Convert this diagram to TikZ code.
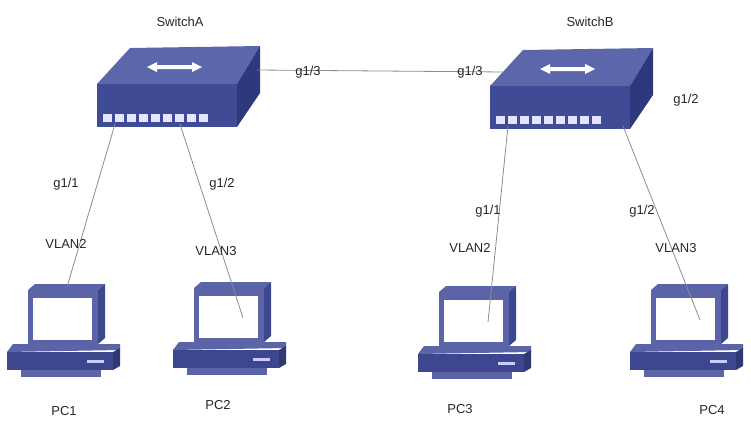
\documentclass[tikz,border=0pt]{standalone}
\usepackage{fontspec}
\setmainfont{Liberation Sans}
\definecolor{swtop}{HTML}{5C66AA}
\definecolor{swfront}{HTML}{3F4B95}
\definecolor{swside}{HTML}{2E387C}
\definecolor{pcface}{HTML}{5A64A6}
\definecolor{pcdark}{HTML}{3C4790}
\tikzset{
  lbl/.style={font=\fontsize{13}{15}\selectfont,text=black!85},
  link/.style={draw=black!45,line width=0.8pt},
  pics/switch/.style={code={
    \fill[swtop] (0,0) -- (33,-36) -- (163,-38) -- (140,0) -- cycle;
    \fill[swside] (140,0) -- (163,-38) -- (163,9) -- (140,43) -- cycle;
    \fill[swfront] (0,0) rectangle (140,43);
    \fill[white] (50,-17) -- (60,-22) -- (60,-19) -- (95,-19) -- (95,-22) -- (105,-17)
      -- (95,-12) -- (95,-15) -- (60,-15) -- (60,-12) -- cycle;
    \foreach \i in {0,...,8} \fill[white!90!blue] (6+\i*12,30) rectangle ++(9,8);
    \coordinate (-p1) at (18,40);
    \coordinate (-p2) at (83,40);
    \coordinate (-left) at (15,-14);
    \coordinate (-right) at (160,-14);
  }},
  pics/pc/.style={code={
    \fill[pcface] (21,0) -- (28,-6) -- (98,-6) -- (91,0) -- cycle;
    \fill[pcdark] (91,0) -- (98,-6) -- (98,48) -- (91,54) -- cycle;
    \fill[pcface] (21,0) rectangle (91,54);
    \fill[white] (26,8) rectangle (85,50);
    \fill[pcface] (6,54) -- (113,54) -- (113,60) -- (0,62) -- cycle;
    \fill[pcdark] (0,62) rectangle (106,80);
    \fill[pcdark!80!black] (106,62) -- (113,58) -- (113,76) -- (106,80) -- cycle;
    \fill[white!80!blue] (80,70) rectangle (97,73);
    \fill[pcface] (14,80) rectangle (94,87);
    \coordinate (-top) at (60,-3);
    \coordinate (-scr) at (70,30);
  }}
}
\begin{document}
\begin{tikzpicture}[x=1pt,y=-1pt]
  \useasboundingbox (0,0) rectangle (751,426);
  % switches
  \pic (swA) at (97,84) {switch};
  \pic (swB) at (490,86) {switch};
  % hosts
  \pic (pc1) at (7,290) {pc};
  \pic (pc2) at (173,288) {pc};
  \pic (pc3) at (418,292) {pc};
  \pic (pc4) at (630,290) {pc};

  \draw[link] (swA-right) -- (swB-left);
  \draw[link] (swA-p1) -- (pc1-top);
  \draw[link] (swA-p2) -- (pc2-scr);
  \draw[link] (swB-p1) -- (pc3-scr);
  \draw[link] ([xshift=50pt]swB-p2) -- (pc4-scr);

  \node[lbl] (nA) at (180,22) {SwitchA};
  \node[lbl] (nB) at (590,22) {SwitchB};
  \node[lbl] (a3) at (308,72) {g1/3};
  \node[lbl] (b3) at (470,72) {g1/3};
  \node[lbl] (b2) at (686,100) {g1/2};
  \node[lbl] (a1) at (66,184) {g1/1};
  \node[lbl] (a2) at (222,184) {g1/2};
  \node[lbl] (v1) at (66,244) {VLAN2};
  \node[lbl] (v2) at (216,251) {VLAN3};
  \node[lbl] (b1p) at (488,211) {g1/1};
  \node[lbl] (b2p) at (642,211) {g1/2};
  \node[lbl] (v3) at (470,248) {VLAN2};
  \node[lbl] (v4) at (676,248) {VLAN3};
  \node[lbl] (l1) at (64,411) {PC1};
  \node[lbl] (l2) at (218,405) {PC2};
  \node[lbl] (l3) at (460,409) {PC3};
  \node[lbl] (l4) at (712,410) {PC4};
\end{tikzpicture}
\end{document}
